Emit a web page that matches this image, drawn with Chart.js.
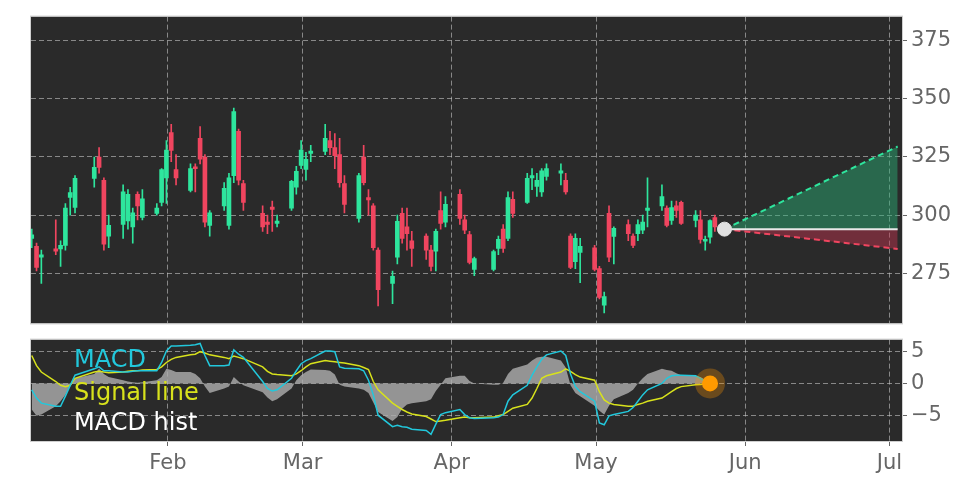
<!DOCTYPE html>
<html><head><meta charset="utf-8">
<script src="https://cdn.jsdelivr.net/npm/chart.js@4.4.1/dist/chart.umd.min.js"></script>
<style>
html,body{margin:0;padding:0;background:#fff;width:972px;height:486px;overflow:hidden}
#c1{position:absolute;left:0;top:0}
#c2{position:absolute;left:0;top:323px}
</style></head><body>
<canvas id="c1" width="972" height="340"></canvas>
<canvas id="c2" width="972" height="163"></canvas>
<script>
const dates=[
"01-05","01-06","01-07",
"01-10","01-11","01-12","01-13","01-14",
"01-18","01-19","01-20","01-21",
"01-24","01-25","01-26","01-27","01-28",
"01-31","02-01","02-02","02-03","02-04",
"02-07","02-08","02-09","02-10","02-11",
"02-14","02-15","02-16","02-17","02-18",
"02-22","02-23","02-24","02-25",
"02-28","03-01","03-02","03-03","03-04",
"03-07","03-08","03-09","03-10","03-11",
"03-14","03-15","03-16","03-17","03-18",
"03-21","03-22","03-23","03-24","03-25",
"03-28","03-29","03-30","03-31","04-01",
"04-04","04-05","04-06","04-07",
"04-11","04-12","04-13","04-14","04-15",
"04-18","04-19","04-20","04-21","04-22",
"04-25","04-26","04-27","04-28","04-29",
"05-02","05-03","05-04","05-05","05-06",
"05-09","05-10","05-11","05-12","05-13",
"05-16","05-17","05-18","05-19","05-20",
"05-23","05-24","05-25","05-26","05-27"];
const opens=[290,286.6,282, 285.5,285.5,287,307.6,303.3, 315.8,325,315,291, 296,297.5,295,309,299,
300.8,305.5,316,335.5,319.6, 310.6,320.8,333,325,295.6, 304,295.6,317,336,313.6, 300.8,297,303.5,296.5,
303,312,321.4,319.6,326.5, 327.4,332,329,326,313.6, 298.6,325,307.5,304,285, 270.7,282,300.8,295,289,
291,285,284.5,302,297, 309,298,291.7,276.7, 276.7,285.7,294,290,306.8, 305.5,316,312.3,310,316.6,
318,315,291,280,284, 286,277,261.3,300.8,290.9, 296,291,292,293.5,302, 304,303,297.7,304,305.5, 297.7,298,289,290.5,299];
const highs=[294,288,285, 298,289,305,312,317, 325,329,316,300, 313,311,303,310,311,
305,320,332,339,326, 322,322,338,326,302, 314,318,346,337,315, 304,300,306,300,
315,321,332,327,330, 339,336,335,333,317, 318,330,311,305,286, 276,300,303,303,293,
292,287,294,310,308, 311,300,293,282, 285,291,296,310,310, 318,320,318,320,322,
322,318,292,292,290, 287,278,267,304,295, 298,292,298,300,316, 313,304,306,306,306, 302,302,291,298,300];
const lows=[286,276,270.7, 283,278,285,300,301, 312,318,285,286, 290,294,288,298,298,
300,304,305,323,313, 310,310,322,295,291, 302,294,314,313,302, 293,292,293,295,
302,309,320,315,323, 326,326,320,312,301, 297,313,300,285,261, 262,279,288,285,278,
281,276,276,294,295, 296,292,279,274, 276,283,284,289,299, 305,311,308,308,315,
313,309,277,277,271, 276,264,258,280,279, 289,286,289,292,295, 302,295,296,299,296, 295,288,285,288,293];
const closes=[291.5,277.6,283, 284.5,287,303,309.7,315.8, 320.5,320.5,287.5,295.6, 310,309,301,304,307,
303,319.6,328,327.8,316, 320,320,324,297,301, 311.5,316,344.5,315,305.5, 295,296,302.5,297.5,
314.5,318.8,328,324,327.5, 333,329,325.6,314,304.6, 317,314,306.5,286,268, 273.7,297.3,290,292,285.7,
285,278,293,296.5,304.6, 298.6,293.5,279.7,281.4, 284.4,289.6,285.7,307.6,300.8, 315.8,317,315,319,320,
319,310,277.6,290,286.6, 276.7,264.7,265,281.9,294.3, 292,287,296,297,303, 308,295.6,303.3,302,296.5, 300,289.6,289.5,297.7,295];
const macd=[-1,-2.3,-3.1, -3.6,-3.6,-2,-0.3,1.3, 2.3,2.6,2,2, 1.8,1.8,1.9,2,2,
2,3.3,5.1,5.9,5.9, 6,6.1,6.3,4.4,2.8, 2.8,2.9,5.3,4.6,4.1, 0.3,-0.8,-1.2,-1,
0.8,2,3.1,3.6,3.9, 5.1,5.1,5,2.6,2.4, 2.3,2,0.5,-1.8,-5, -6.8,-6.6,-6.8,-6.9,-7.2,
-7.4,-8,-6.4,-4.9,-4.6, -4.1,-4.9,-5.4,-5.5, -5.4,-5.3,-4.9,-2.8,-1.8, -0.3,1.3,2.6,3.8,4.5,
5.1,4.4,1.5,-0.5,-1.3, -2.8,-6.2,-6.5,-5.1,-4.9, -4.4,-3.8,-2.8,-1.8,-1, 0,0.8,1.2,1.3,1.3, 1.2,0.8,0.3,0,null];
const signal=[4.4,2.8,1.8, 0.3,-0.3,-0.5,-0.3,0.8, 1.8,1.9,1.8,1.7, 1.8,1.9,2,2,2.1,
2.2,2.6,3.3,3.8,4.1, 4.5,4.6,5,4.8,4.5, 4.1,3.9,4.3,4.1,3.9, 2.6,1.9,1.5,1.4,
1.2,1.5,2,2.6,3.1, 3.6,3.5,3.4,3.3,3.2, 2.8,2.5,2.2,0.3,-1, -3.1,-3.6,-4.1,-4.5,-4.8,
-5.2,-5.6,-6,-5.9,-5.8, -5.4,-5.3,-5.4,-5.4, -5.3,-5.1,-4.9,-4.4,-3.9, -3.3,-2.3,-0.8,0.8,1.2,
1.8,2.3,1.9,1.4,1, 0.5,-1.3,-2.6,-3.1,-3.3, -3.6,-3.6,-3.3,-3.1,-2.8, -2.3,-1.8,-1.3,-0.8,-0.5, -0.2,-0.15,-0.1,0,null];
const hist=[-4.1,-5.1,-4.9, -3.6,-2.8,-1.8,-0.5,0.8, 1.5,2.3,1.5,1, 0.5,0.3,0.2,0.1,0.2,
0.5,1,2.3,2.1,1.8, 1.8,1.5,0.8,-0.5,-1.5, -0.8,-0.5,1,0.3,-0.3, -1.4,-2.2,-2.8,-2.5,
-0.8,0.5,1.3,1.8,2.2, 2.1,2,1.4,-0.2,-0.5, -0.8,-1,-1.5,-3,-4.5, -5.9,-5.3,-4,-3.3,-3.1,
-2.8,-2.5,-1.2,-0.2,0.8, 1.2,1.2,0.4,0, -0.2,-0.2,0.1,1.5,2.3, 3,3.6,4.1,4.2,4.2,
3.6,2.5,-0.3,-1.5,-2, -3.5,-4.3,-4.9,-3.5,-2.5, -1.5,-1,0,0.8,1.5, 2.3,2.1,2,1.6,1.3, 1.2,1,0.6,0,null];
const forecastDates=["05-29","07-04"];
const forecastMid=[294,294];
const forecastUp=[294,329.5];
const forecastLow=[294,285.5];
const monthDates=["02-01","03-01","04-01","05-01","06-01","07-01"];
const monthLabels=["Feb","Mar","Apr","May","Jun","Jul"];
const priceTicks=[275,300,325,350,375];
const macdTicks=[-5,0,5];

const dayIdx=s=>{const [m,d]=s.split("-").map(Number);return (Date.UTC(2022,m-1,d)-Date.UTC(2022,0,1))/864e5;};
const X=dates.map(dayIdx);
const TICK_SHIFT=1.3, XMIN=3.85, XMAX=184.9;
const monthX=monthDates.map(d=>dayIdx(d)+TICK_SHIFT);
const GREEN='#2ee59d', RED='#f0455f';
const col=dates.map((_,i)=>closes[i]>=opens[i]?GREEN:RED);
const bodies=dates.map((_,i)=>{let a=opens[i],b=closes[i];if(Math.abs(a-b)<0.8){const m=(a+b)/2;a=m-0.4;b=m+0.4;}return {x:X[i],y:[a,b]};});
const wicks=dates.map((_,i)=>({x:X[i],y:[lows[i],highs[i]]}));
const fx=forecastDates.map(d=>dayIdx(d));
const fpts=a=>a.map((v,i)=>({x:Math.min(fx[i],XMAX),y:v}));

const bgPlugin={id:'bg',beforeDraw(c){const a=c.chartArea,g=c.ctx;g.save();g.fillStyle='#2a2a2a';g.fillRect(a.left,a.top,a.right-a.left,a.bottom-a.top);g.restore();},
afterDraw(c){const a=c.chartArea,g=c.ctx;g.save();g.strokeStyle='#cfcfcf';g.lineWidth=1;g.strokeRect(a.left-0.5,a.top-0.5,a.right-a.left+1,a.bottom-a.top+1);g.restore();}};
const grid={color:'rgba(200,200,200,0.6)',lineWidth:1,drawTicks:false};
const border={display:false,dash:[5,3]};
const FONT={size:21,family:'DejaVu Sans'};
const xScale=(showLabels)=>({type:'linear',min:XMIN,max:XMAX,offset:false,border,
  grid:Object.assign({},grid,{offset:false,drawTicks:showLabels,tickLength:5,tickColor:'#666'}),
  afterBuildTicks:s=>{s.ticks=monthX.map(v=>({value:v}));},
  afterFit:s=>{s.height=showLabels?45:0;},
  ticks:{display:showLabels,autoSkip:false,maxRotation:0,color:'#666',font:FONT,padding:5,
    callback:(v,i)=>monthLabels[i]}});
const yScale=(min,max,tks)=>({position:'right',min,max,border,grid:Object.assign({},grid,{drawTicks:true,tickLength:5,tickColor:'#666'}),
  afterBuildTicks:s=>{s.ticks=tks.map(v=>({value:v}));},afterFit:s=>{s.width=70;},
  ticks:{color:'#666',font:FONT,padding:4,callback:v=>v===0?'0':(v<0?'\u2212'+Math.abs(v):v)}});

new Chart(document.getElementById('c1'),{type:'bar',
 data:{datasets:[
  {type:'line',data:fpts(forecastUp),borderColor:'#2ee59d',borderDash:[6,4],borderWidth:2,pointRadius:0,fill:'+1',backgroundColor:'rgba(40,180,120,0.45)',order:3},
  {type:'line',data:fpts(forecastMid),borderColor:'#e8e8e8',borderWidth:2,pointRadius:0,fill:false,order:2},
  {type:'line',data:fpts(forecastLow),borderColor:'#f0455f',borderDash:[6,4],borderWidth:2,pointRadius:0,fill:'-1',backgroundColor:'rgba(200,50,80,0.45)',order:3},
  {type:'line',data:[fpts(forecastMid)[0]],pointRadius:7,pointBackgroundColor:'#e0e0e0',pointBorderColor:'#e0e0e0',showLine:false,order:0},
  {data:wicks,backgroundColor:col,barThickness:1,grouped:false,order:5},
  {data:bodies,backgroundColor:col,barThickness:4,grouped:false,order:4}
 ]},
 options:{animation:false,responsive:false,events:[],layout:{padding:{left:31,top:16,bottom:0,right:0}},
  plugins:{legend:{display:false},tooltip:{enabled:false}},
  scales:{x:xScale(false),y:yScale(253.5,385.3,priceTicks)}},
 plugins:[bgPlugin]});

const lastI=macd.findLastIndex(v=>v!==null);
const pts=a=>a.map((v,i)=>({x:X[i],y:v})).filter(p=>p.y!==null);
const legendPlugin={id:'lg',afterDatasetsDraw(c){const g=c.ctx;const t=c.chartArea.top;g.save();g.font='24px DejaVu Sans';g.textBaseline='middle';
  g.fillStyle='#22c8dc';g.fillText('MACD',74,t+21);g.fillStyle='#d8e21c';g.fillText('Signal line',74,t+54);g.fillStyle='#ffffff';g.fillText('MACD hist',74,t+84);g.restore();}};
new Chart(document.getElementById('c2'),{type:'line',
 data:{datasets:[
  {data:[{x:X[lastI],y:macd[lastI]}],pointRadius:15,pointBackgroundColor:'rgba(255,150,0,0.3)',pointBorderWidth:0,showLine:false,order:1},
  {data:[{x:X[lastI],y:macd[lastI]}],pointRadius:8,pointBackgroundColor:'#ff9a00',pointBorderWidth:0,showLine:false,order:0},
  {data:pts(signal),borderColor:'#d8e21c',borderWidth:1.5,pointRadius:0,tension:0,order:3},
  {data:pts(macd),borderColor:'#22c8dc',borderWidth:1.5,pointRadius:0,tension:0,order:2},
  {data:pts(hist),borderWidth:0,borderColor:'rgba(0,0,0,0)',backgroundColor:'rgba(175,175,175,0.8)',fill:'origin',pointRadius:0,order:4}
 ]},
 options:{animation:false,responsive:false,events:[],layout:{padding:{left:31,top:0,bottom:0,right:0}},
  plugins:{legend:{display:false},tooltip:{enabled:false}},
  scales:{x:xScale(true),y:yScale(-9.06,6.9,macdTicks)}},
 plugins:[bgPlugin,legendPlugin]});
</script></body></html>
